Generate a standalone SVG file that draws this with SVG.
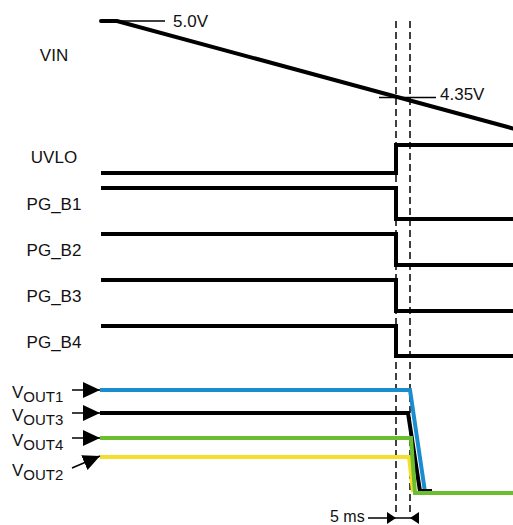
<svg xmlns="http://www.w3.org/2000/svg" width="513" height="525" viewBox="0 0 513 525">
<style>
text{font-family:"Liberation Sans",Arial,sans-serif;font-size:17px;fill:#111}
.sig{fill:none;stroke:#000;stroke-width:4;stroke-linejoin:miter}
.thin{fill:none;stroke:#000;stroke-width:1.5}
.dash{fill:none;stroke:#000;stroke-width:1.5;stroke-dasharray:7 4}
.sub{font-size:15px}
</style>
<defs>
<marker id="arrBig" markerUnits="userSpaceOnUse" markerWidth="17" markerHeight="16" refX="17" refY="8" orient="auto">
<path d="M0,0 L17,8 L0,16 z" fill="#000"/>
</marker>
<marker id="arrSmall" markerUnits="userSpaceOnUse" markerWidth="9" markerHeight="12" refX="9" refY="6" orient="auto">
<path d="M0,0 L9,6 L0,12 z" fill="#000"/>
</marker>
</defs>
<rect width="513" height="525" fill="#fff"/>

<g id="guides">
<line class="dash" x1="396" y1="21" x2="396" y2="514"/>
<line class="dash" x1="410" y1="21" x2="410" y2="514"/>
</g>

<g id="VIN">
<text x="54" y="61" text-anchor="middle">VIN</text>
<polyline class="sig" stroke-linecap="round" points="101,21 117,21 513,128.5"/>
<line class="thin" x1="117" y1="21" x2="165" y2="21"/>
<text x="173" y="27">5.0V</text>
<line class="thin" x1="379" y1="97.5" x2="436" y2="97.5"/>
<text x="440" y="100">4.35V</text>
</g>

<g id="UVLO">
<text x="54" y="163" text-anchor="middle">UVLO</text>
<polyline class="sig" points="101,173 396,173 396,145 513,145"/>
</g>
<g id="PG_B1">
<text x="54" y="210" text-anchor="middle">PG_B1</text>
<polyline class="sig" points="101,188 396,188 396,219 513,219"/>
</g>
<g id="PG_B2">
<text x="54" y="256" text-anchor="middle">PG_B2</text>
<polyline class="sig" points="101,234 396,234 396,265 513,265"/>
</g>
<g id="PG_B3">
<text x="54" y="302" text-anchor="middle">PG_B3</text>
<polyline class="sig" points="101,280 396,280 396,311 513,311"/>
</g>
<g id="PG_B4">
<text x="54" y="348" text-anchor="middle">PG_B4</text>
<polyline class="sig" points="101,326 396,326 396,356 513,356"/>
</g>

<g id="VOUT1">
<text x="12" y="398">V<tspan class="sub" dy="4">OUT1</tspan></text>
<polyline class="sig" style="stroke:#1a8dd0" points="100,390 410,390 425,492 432,492"/>
</g>
<g id="VOUT3">
<text x="12" y="421">V<tspan class="sub" dy="4">OUT3</tspan></text>
<polyline class="sig" points="100,413 408,413 420,491 432,491"/>
</g>
<g id="VOUT2">
<text x="12" y="476">V<tspan class="sub" dy="4">OUT2</tspan></text>
<polyline class="sig" style="stroke:#f5df2e" points="100,457 409,457 413,492"/>
</g>
<g id="VOUT4">
<text x="12" y="446">V<tspan class="sub" dy="4">OUT4</tspan></text>
<polyline class="sig" style="stroke:#6bbf2f" points="100,438 411,438 415,493 513,493"/>
</g>

<g id="connectors">
<line class="thin" x1="72" y1="390" x2="100" y2="390" marker-end="url(#arrBig)"/>
<line class="thin" x1="72" y1="413" x2="100" y2="413" marker-end="url(#arrBig)"/>
<line class="thin" x1="72" y1="438" x2="100" y2="438" marker-end="url(#arrBig)"/>
<line class="thin" x1="72" y1="468" x2="100" y2="456" marker-end="url(#arrBig)"/>
<line class="thin" x1="368" y1="518" x2="396" y2="518" marker-end="url(#arrSmall)"/>
<line class="thin" x1="396" y1="518" x2="410" y2="518"/>
<line class="thin" x1="419" y1="518" x2="410" y2="518" marker-end="url(#arrSmall)"/>
</g>

<g id="label-5ms">
<text x="330" y="522" style="font-size:16px">5 ms</text>
</g>
</svg>
